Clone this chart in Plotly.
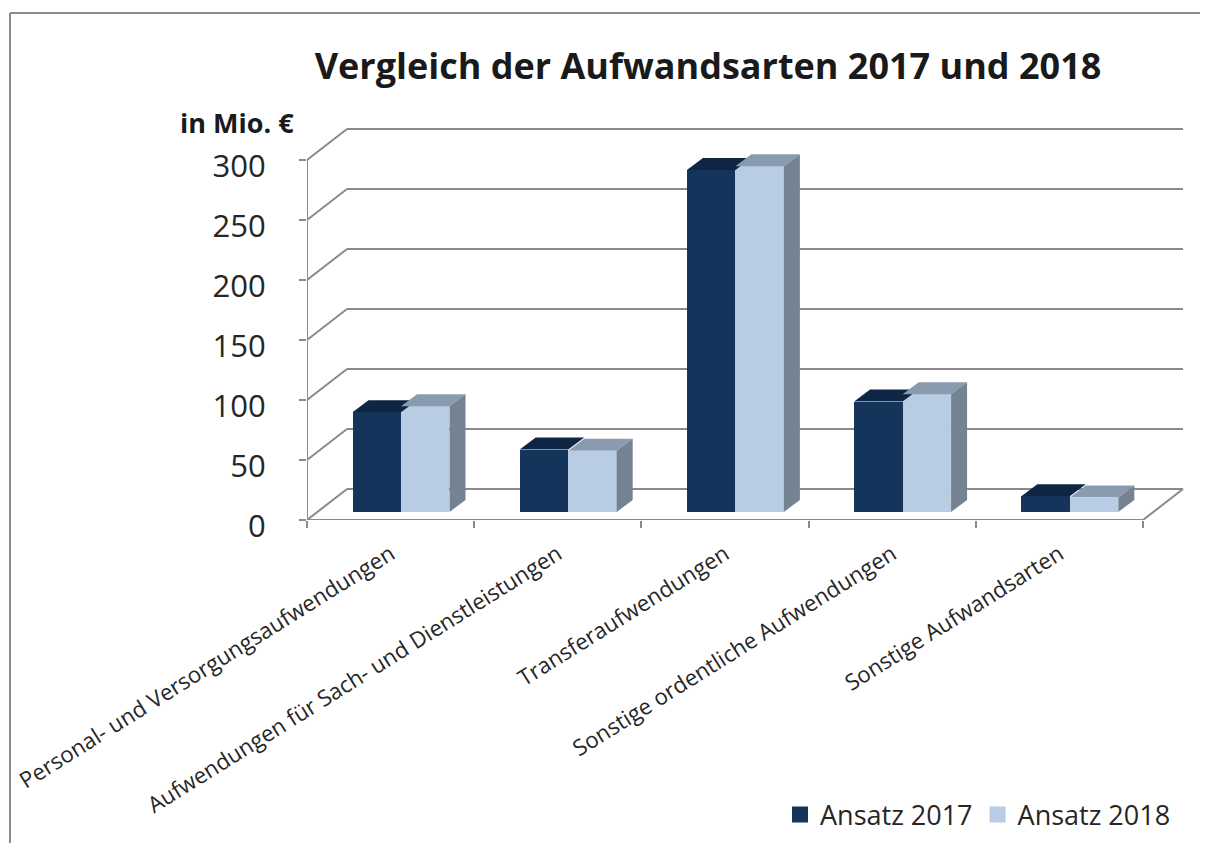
import plotly.graph_objects as go

# Daten (in Mio. €)
kategorien = [
    "Personal- und Versorgungsaufwendungen",
    "Aufwendungen für Sach- und Dienstleistungen",
    "Transferaufwendungen",
    "Sonstige ordentliche Aufwendungen",
    "Sonstige Aufwandsarten",
]
ansatz_2017 = [83, 52, 285, 92, 13]
ansatz_2018 = [88, 51, 288, 98, 12]
y_ticks = [0, 50, 100, 150, 200, 250, 300]

# Seitenrand des Browsers (body margin) ausgleichen
OFF = 8
W, H = 1208 - OFF, 843 - OFF

# Geometrie der Pseudo-3D-Darstellung (Seitenpixel)
L, R, T, B = 307, 1190, 120, 520          # Plotfläche
PX_X = 167.2                               # Pixel je Kategorie
PX_Y = 1.2                                 # Pixel je Mio. €
WX, WY = 40 / PX_X, 31 / PX_Y              # Tiefe der Rückwand
D0X, D0Y = 0.26 * WX, 0.26 * WY            # Vorderkante der Säulen
DDX, DDY = 16 / PX_X, 12 / PX_Y            # Säulentiefe
BW = 0.29                                  # Säulenbreite

C17, C17_TOP = "#15345C", "#0E2643"
C18, C18_TOP, C18_SIDE = "#B8CCE4", "#8B9BAF", "#748292"
GRID = "#8a8a8a"

x_max = -0.5 + (R - L) / PX_X
y_max = (B - T) / PX_Y
x_front_end = len(kategorien) - 0.5


def px(x):
    return (x - L) / (R - L)


def py(y):
    return (B - y) / (B - T)


fig = go.Figure()

x17 = [i + D0X - BW / 2 for i in range(len(kategorien))]
x18 = [i + D0X + BW / 2 for i in range(len(kategorien))]
base = [D0Y] * len(kategorien)

fig.add_trace(go.Bar(x=x17, y=ansatz_2017, base=base, width=BW, name="Ansatz 2017",
                     marker=dict(color=C17, line=dict(width=0)), showlegend=False))
fig.add_trace(go.Bar(x=x18, y=ansatz_2018, base=base, width=BW, name="Ansatz 2018",
                     marker=dict(color=C18, line=dict(width=0)), showlegend=False))


def poly(xs, ys, color):
    fig.add_trace(go.Scatter(x=xs + [xs[0]], y=ys + [ys[0]], mode="lines", fill="toself",
                             fillcolor=color, line=dict(width=0, color=color),
                             showlegend=False, hoverinfo="skip"))


for xa, va, xb, vb in zip(x17, ansatz_2017, x18, ansatz_2018):
    ta, tb = va + D0Y, vb + D0Y
    # Deckfläche 2017 (rechter Teil verdeckt von 2018)
    xl, xr = xa - BW / 2, xa + BW / 2
    if tb >= ta + DDY:
        poly([xl, xr, xr, xl + DDX], [ta, ta, ta + DDY, ta + DDY], C17_TOP)
    else:
        poly([xl, xr, xr + DDX, xl + DDX], [ta, ta, ta + DDY, ta + DDY], C17_TOP)
    # Deckfläche und Seitenfläche 2018
    xl, xr = xb - BW / 2, xb + BW / 2
    poly([xl, xr, xr + DDX, xl + DDX], [tb, tb, tb + DDY, tb + DDY], C18_TOP)
    poly([xr, xr + DDX, xr + DDX, xr], [D0Y, D0Y + DDY, tb + DDY, tb], C18_SIDE)

# Legende mit größeren Quadraten
for name, col in [("Ansatz 2017", C17), ("Ansatz 2018", C18)]:
    fig.add_trace(go.Scatter(x=[None], y=[None], mode="markers", name=name,
                             marker=dict(symbol="square", size=18, color=col)))

shapes = []
for v in y_ticks:
    shapes.append(dict(type="line", x0=-0.5 + WX, x1=x_front_end + WX, y0=v + WY, y1=v + WY,
                       line=dict(color=GRID, width=2), layer="below"))
    shapes.append(dict(type="line", x0=-0.5, x1=-0.5 + WX, y0=v, y1=v + WY,
                       line=dict(color=GRID, width=2), layer="below"))
# Vorderachsen und Boden
shapes.append(dict(type="line", x0=-0.5, x1=-0.5, y0=0, y1=y_ticks[-1],
                   line=dict(color=GRID, width=2), layer="below"))
shapes.append(dict(type="line", x0=-0.5, x1=x_front_end, y0=0, y1=0,
                   line=dict(color=GRID, width=2), layer="below"))
shapes.append(dict(type="line", x0=x_front_end, x1=x_front_end + WX, y0=0, y1=WY,
                   line=dict(color=GRID, width=2), layer="below"))
# Rahmen
shapes.append(dict(type="line", xref="paper", yref="paper",
                   x0=px(10), x1=px(1210), y0=py(13), y1=py(13),
                   line=dict(color="#8c8c8c", width=2)))
shapes.append(dict(type="line", xref="paper", yref="paper",
                   x0=px(10), x1=px(10), y0=py(13), y1=py(850),
                   line=dict(color="#8c8c8c", width=2)))

fig.update_layout(
    width=W, height=H,
    margin=dict(l=L - OFF, r=1208 - R, t=T - OFF, b=843 - B),
    plot_bgcolor="white", paper_bgcolor="white",
    font=dict(family="Open Sans, sans-serif", color="#262626"),
    barmode="overlay", bargap=0,
    title=dict(text="<b>Vergleich der Aufwandsarten 2017 und 2018</b>",
               xref="container", yref="container",
               x=(708 - OFF) / W, y=1 - (66 - OFF) / H,
               xanchor="center", yanchor="middle",
               font=dict(size=36, color="#1a1a1a")),
    xaxis=dict(range=[-0.5, x_max], showgrid=False, zeroline=False, showline=False,
               automargin=False, ticklabeloverflow="allow",
               tickmode="array", tickvals=list(range(len(kategorien))), ticktext=kategorien,
               tickangle=-32, tickfont=dict(size=22.3), ticks="",
               minor=dict(ticks="outside", tickmode="array",
                          tickvals=[i - 0.5 for i in range(len(kategorien) + 1)],
                          ticklen=7, tickwidth=2, tickcolor=GRID, showgrid=False),
               ticklabelstandoff=16),
    yaxis=dict(range=[0, y_max], showgrid=False, zeroline=False, showline=False,
               automargin=False,
               tickmode="array", tickvals=y_ticks, ticks="outside", ticklen=7,
               tickwidth=2, tickcolor=GRID, tickfont=dict(size=31),
               ticklabelstandoff=27, ticklabelshift=6),
    legend=dict(orientation="h", xref="container", yref="container",
                x=(1176 - OFF) / W, y=1 - (815 - OFF) / H,
                xanchor="right", yanchor="middle", font=dict(size=27),
                itemwidth=30, traceorder="normal"),
    annotations=[dict(text="<b>in Mio. €</b>", xref="paper", yref="paper",
                      x=px(296), y=py(122),
                      xanchor="right", yanchor="middle", showarrow=False,
                      font=dict(size=27, color="#1a1a1a"))],
    shapes=shapes,
)

fig.write_html("out.html", config={"displayModeBar": False})
